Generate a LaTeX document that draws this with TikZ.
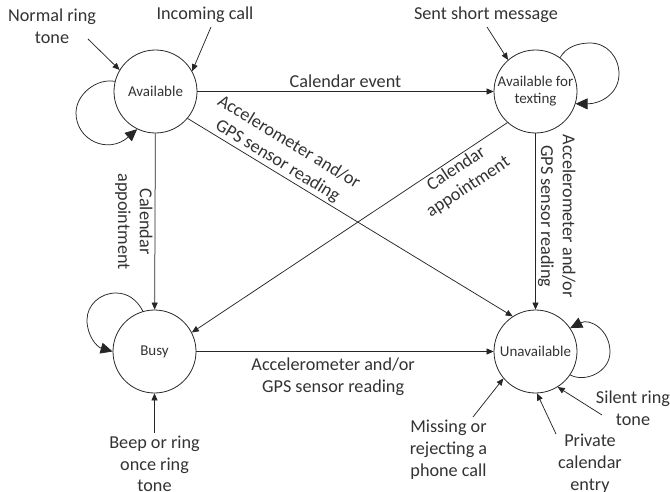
\documentclass[tikz,border=0pt]{standalone}
\usepackage{fontspec}
\setmainfont{Carlito}
\usetikzlibrary{arrows.meta}
\begin{document}
\begin{tikzpicture}[x=1pt,y=-1pt,
  state/.style={circle, draw=black!85, line width=0.8pt, minimum size=83pt, inner sep=0pt,
    font=\fontsize{15}{17}\selectfont, text=black!80, align=center},
  lbl/.style={font=\fontsize{18.2}{21.8}\selectfont, text=black!80, align=center, inner sep=2pt},
  edge/.style={draw=black!85, line width=0.75pt, -{Triangle[length=7pt,width=6pt]}},
  loopedge/.style={draw=black!85, line width=0.75pt, -{Triangle[length=12pt,width=11pt]}},
]
\useasboundingbox (0,0) rectangle (670,492);

% states
\node[state] (A) at (155.5,91.5) {Available};
\node[state] (T) at (535.5,91.5) {\makebox[50pt]{Available for}\\texting};
\node[state] (B) at (154.5,351.5) {Busy};
\node[state] (U) at (535.5,351.5) {Unavailable};

% transitions between states
\draw[edge] (A) -- node[lbl, above=1pt] {Calendar event} (T);
\draw[edge] (A) -- node[lbl, midway, rotate=-90, anchor=north] {Calendar\\appointment} (B);
\draw[edge] (T) -- node[lbl, pos=0.47, rotate=-90, anchor=south] {Accelerometer and/or\\GPS sensor reading} (U);
\draw[edge] (B) -- node[lbl, pos=0.46, below=4pt] {Accelerometer and/or\\GPS sensor reading} (U);
\draw[edge] (A.-40) -- node[lbl, pos=0.26, sloped, above] {Accelerometer and/or\\GPS sensor reading} (U.123);
\draw[edge] (T.-132) -- node[lbl, pos=0.18, sloped, below] {Calendar\\appointment} (B.27);

% self loops
\draw[loopedge] (A.166) .. controls (97,78) and (76,94) .. (76,113)
  .. controls (76,140) and (108,155) .. (A.-116);
\draw[loopedge] (T.54) .. controls (566,47) and (578,43) .. (590,43)
  .. controls (607,43) and (619,57) .. (619,74)
  .. controls (619,94) and (600,104) .. (T.-17);
\draw[loopedge] (B.106) .. controls (137,300) and (128,293) .. (116,293)
  .. controls (100,293) and (87,305) .. (87,320)
  .. controls (87,336) and (97,347) .. (B.180);
\draw[loopedge] (U.-34) .. controls (585,383) and (610,372) .. (610,352)
  .. controls (610,330) and (590,318) .. (U.34);

% incoming events
\node[lbl] (nrt) at (52,26) {Normal ring\\tone};
\node[lbl] (ic) at (205,15) {Incoming call};
\node[lbl] (ssm) at (486,15) {Sent short message};
\node[lbl] (bp) at (154.5,464) {Beep or ring\\once ring\\tone};
\node[lbl] (ms) at (448.5,450) {Missing or\\rejecting a\\phone call};
\node[lbl] (pc) at (590,464) {Private\\calendar\\entry};
\node[lbl] (sr) at (633,408) {Silent ring\\tone};

\coordinate (nrtS) at (88,39);
\coordinate (icS) at (211,27);
\coordinate (ssS) at (487,27);
\coordinate (bpS) at (154.5,433);
\coordinate (msS) at (473,417);
\coordinate (pcS) at (556,434);
\coordinate (srS) at (602,415);

\draw[edge] (nrtS) -- (A.149);
\draw[edge] (icS) -- (A.29);
\draw[edge] (ssS) -- (T.131);
\draw[edge] (bpS) -- (B.-90);
\draw[edge] (msS) -- (U.-140);
\draw[edge] (pcS) -- (U.-88);
\draw[edge] (srS) -- (U.-58);
\end{tikzpicture}
\end{document}
